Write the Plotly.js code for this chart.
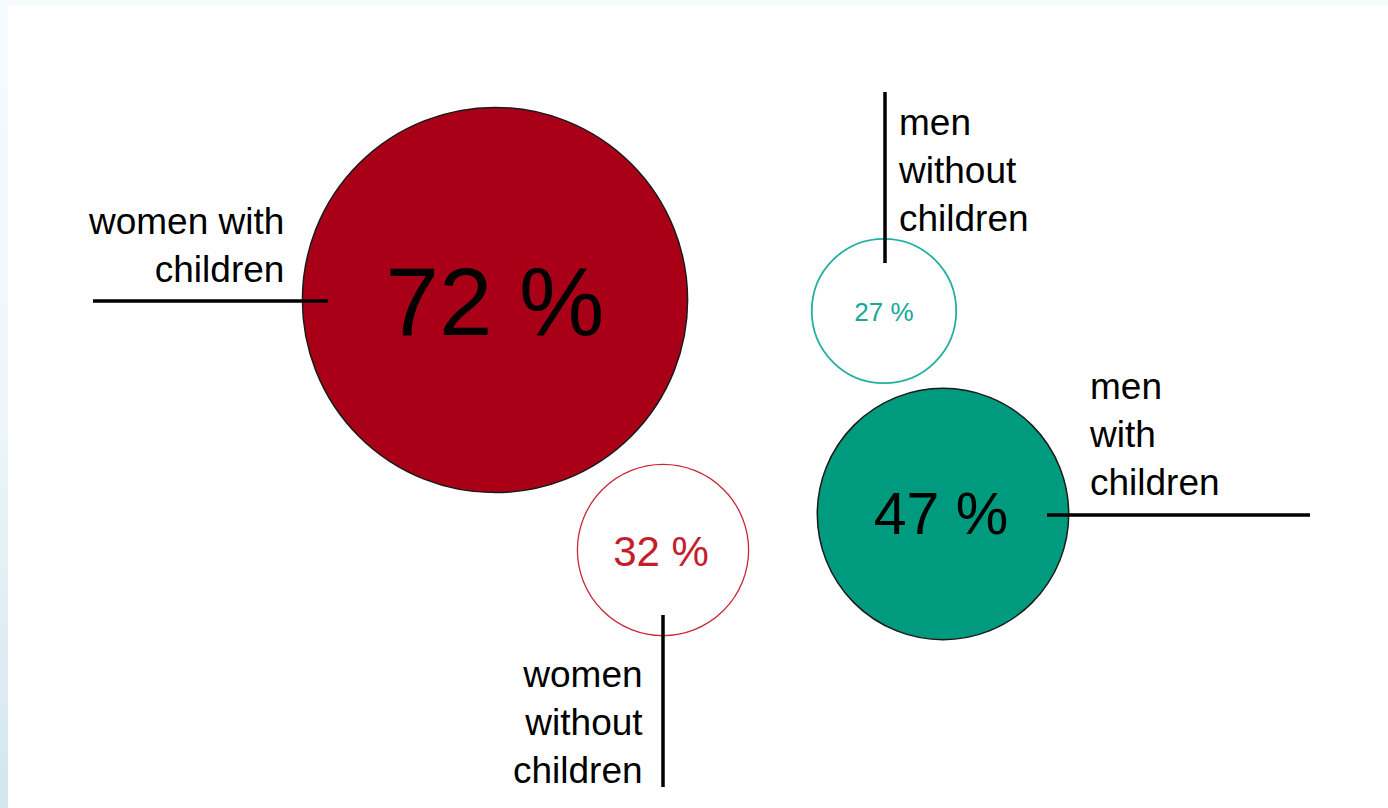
<!DOCTYPE html>
<html>
<head>
<meta charset="utf-8">
<script src="https://cdn.plot.ly/plotly-3.0.1.min.js"></script>
<style>
  html, body { margin: 0; padding: 0; width: 1388px; height: 808px; overflow: hidden; background: #ffffff; }
  #topstrip { position: absolute; left: 0; top: 0; width: 1388px; height: 5px; background: #f6fbfd; }
  #leftstrip { position: absolute; left: 0; top: 0; width: 8px; height: 808px;
               background: linear-gradient(to bottom, #f6fbfd 0%, #eef6f9 50%, #d3e6ed 100%); }
  #chart { position: absolute; left: 0; top: 0; width: 1388px; height: 808px; }
</style>
</head>
<body>
<div id="topstrip"></div>
<div id="leftstrip"></div>
<div id="chart"></div>
<script>
// ---- data ----
const categories = ['women with children', 'women without children', 'men without children', 'men with children'];
const labelTexts = ['women with<br>children', 'women<br>without<br>children', 'men<br>without<br>children', 'men<br>with<br>children'];
const values = [72, 32, 27, 47];
const valueLabels = values.map(v => v + ' %');

// ---- layout / style config ----
const centersX = [495, 663, 884, 943];
const centersY = [300, 550, 311, 514];
const fillColors = ['#a90017', 'rgba(255,255,255,0)', 'rgba(255,255,255,0)', '#009a7e'];
const edgeColors = ['#1a1a1a', '#c8283a', '#22b0a0', '#1a1a1a'];
const edgeWidths = [1.5, 1.3, 1.8, 1.5];
const valueFontSizes = [96, 42, 26, 59];
const valueFontColors = ['#000000', '#c41e2e', '#17a89a', '#000000'];
const valueTextDX = [0, -2, 0, -2];
const valueTextDY = [11, 5, 3, 5];
const pxPerPercent = 5.35;

// label placement relative to bubble centre
const labelDX = [-209, -18, 12, 144];
const labelDY = [-55, 172, -141, -80];
const labelAnchor = ['right', 'right', 'left', 'left'];
// leader lines relative to bubble centre [dx0, dy0, dx1, dy1]
const leaders = [
  [-402, 1, -167, 1],
  [0, 65, 0, 237],
  [1, -219, 1, -48],
  [104, 1, 367, 1]
];

const font = "'Liberation Sans', Arial, Helvetica, sans-serif";

const bubbles = {
  type: 'scatter',
  mode: 'markers',
  x: centersX,
  y: centersY,
  marker: {
    size: values,
    sizemode: 'diameter',
    sizeref: 1 / pxPerPercent,
    color: fillColors,
    line: { color: edgeColors, width: edgeWidths },
    opacity: 1
  },
  hoverinfo: 'skip',
  cliponaxis: false,
  showlegend: false
};

const valueText = {
  type: 'scatter',
  mode: 'text',
  x: centersX.map((x, i) => x + valueTextDX[i]),
  y: centersY.map((y, i) => y + valueTextDY[i]),
  text: valueLabels,
  textposition: 'middle center',
  textfont: { family: font, size: valueFontSizes, color: valueFontColors },
  hoverinfo: 'skip',
  cliponaxis: false,
  showlegend: false
};

const annotations = categories.map((c, i) => ({
  x: centersX[i] + labelDX[i],
  y: centersY[i] + labelDY[i],
  xref: 'x', yref: 'y',
  text: labelTexts[i],
  showarrow: false,
  xanchor: labelAnchor[i],
  yanchor: 'middle',
  align: labelAnchor[i],
  font: { family: font, size: 37, color: '#000000' }
}));

const shapes = leaders.map((l, i) => ({
  type: 'line', xref: 'x', yref: 'y',
  x0: centersX[i] + l[0], y0: centersY[i] + l[1],
  x1: centersX[i] + l[2], y1: centersY[i] + l[3],
  line: { color: '#000000', width: 3.5 },
  layer: 'above'
}));

const layout = {
  width: 1388, height: 808,
  margin: { l: 0, r: 0, t: 0, b: 0, pad: 0 },
  paper_bgcolor: 'rgba(0,0,0,0)',
  plot_bgcolor: 'rgba(0,0,0,0)',
  xaxis: { range: [0, 1388], visible: false, fixedrange: true },
  yaxis: { range: [808, 0], visible: false, fixedrange: true },
  annotations: annotations,
  shapes: shapes,
  showlegend: false
};

Plotly.newPlot('chart', [bubbles, valueText], layout, { staticPlot: true, displayModeBar: false });
</script>
</body>
</html>
